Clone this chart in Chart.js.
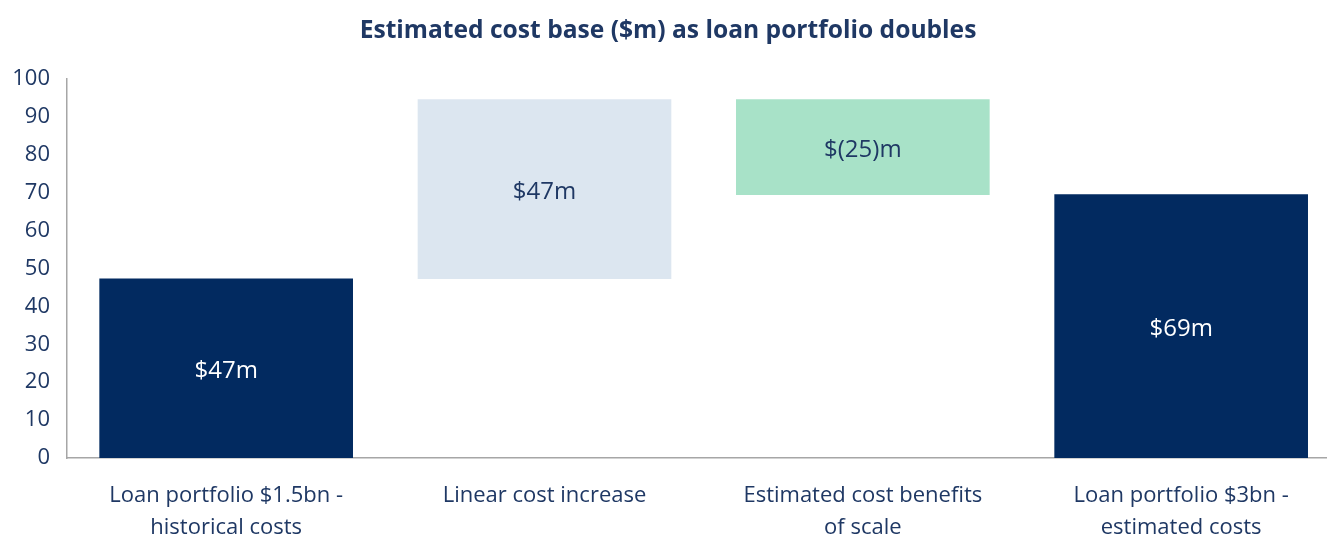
<!DOCTYPE html>
<html>
<head>
<meta charset="utf-8">
<style>
  html, body { margin: 0; padding: 0; background: #fff; }
  #wrap { width: 1328px; height: 536px; }
</style>
<script src="https://cdn.jsdelivr.net/npm/chart.js@4/dist/chart.umd.min.js"></script>
</head>
<body>
<div id="wrap"><canvas id="costs" width="1328" height="536"></canvas></div>
<script>
// categorie e valori (barre fluttuanti: inizio, fine)
const categories = [
  ['Loan portfolio $1.5bn -', 'historical costs'],
  ['Linear cost increase'],
  ['Estimated cost benefits', 'of scale'],
  ['Loan portfolio $3bn -', 'estimated costs']
];
const barStart = [0, 47.3, 69.5, 0];
const barEnd = [47.3, 94.6, 94.6, 69.5];
const barLabels = ['$47m', '$47m', '$(25)m', '$69m'];
const yTicks = [0, 10, 20, 30, 40, 50, 60, 70, 80, 90, 100];

const navy = '#1f3864';
const barColors = ['#022a60', '#dce6f0', '#a8e2c8', '#022a60'];
const labelColors = ['#ffffff', navy, navy, '#ffffff'];

const floating = categories.map((c, i) => ({ x: i, y: [barStart[i], barEnd[i]] }));

// scrive il valore dentro ogni barra
const barText = {
  id: 'barText',
  afterDatasetsDraw(chart) {
    const ctx = chart.ctx;
    const meta = chart.getDatasetMeta(0);
    ctx.save();
    ctx.font = '24px "Open Sans", sans-serif';
    ctx.textAlign = 'center';
    ctx.textBaseline = 'middle';
    meta.data.forEach((bar, i) => {
      const p = bar.getProps(['x', 'y', 'base'], true);
      ctx.fillStyle = labelColors[i];
      ctx.fillText(barLabels[i], p.x, (p.y + p.base) / 2 + 3);
    });
    ctx.restore();
  }
};

const ctx = document.getElementById('costs').getContext('2d');

new Chart(ctx, {
  type: 'bar',
  data: {
    datasets: [{
      data: floating,
      backgroundColor: barColors,
      borderWidth: 0,
      barThickness: 253,
      grouped: false
    }]
  },
  plugins: [barText],
  options: {
    responsive: false,
    animation: false,
    devicePixelRatio: 1,
    layout: { padding: { top: 0, left: 10, right: 2, bottom: 0 } },
    plugins: {
      legend: { display: false },
      tooltip: { enabled: false },
      title: {
        display: true,
        text: 'Estimated cost base ($m) as loan portfolio doubles',
        color: navy,
        font: { family: '"Open Sans", sans-serif', size: 24.6, weight: 'bold', lineHeight: 1.2 },
        padding: { top: 16, bottom: 33.5 }
      }
    },
    scales: {
      x: {
        type: 'linear',
        offset: false,
        min: -0.5,
        max: 3.455,
        afterBuildTicks(axis) {
          axis.ticks = categories.map((c, i) => ({ value: i }));
        },
        afterFit(axis) { axis.height = 78; },
        ticks: {
          autoSkip: false,
          maxRotation: 0,
          color: navy,
          padding: 22,
          font: { family: '"Open Sans", sans-serif', size: 22, lineHeight: 1.45 },
          callback: (v) => categories[v]
        },
        grid: { display: false, drawTicks: false },
        border: { display: true, color: '#a6a6a6', width: 1.5 }
      },
      y: {
        min: 0,
        max: 100,
        afterBuildTicks(axis) {
          axis.ticks = yTicks.map(v => ({ value: v }));
        },
        afterFit(axis) { axis.width = 57; },
        ticks: {
          color: navy,
          padding: 17,
          font: { family: '"Open Sans", sans-serif', size: 22 }
        },
        grid: { display: false, drawTicks: false },
        border: { display: true, color: '#a6a6a6', width: 1.5 }
      }
    }
  }
});
</script>
</body>
</html>
